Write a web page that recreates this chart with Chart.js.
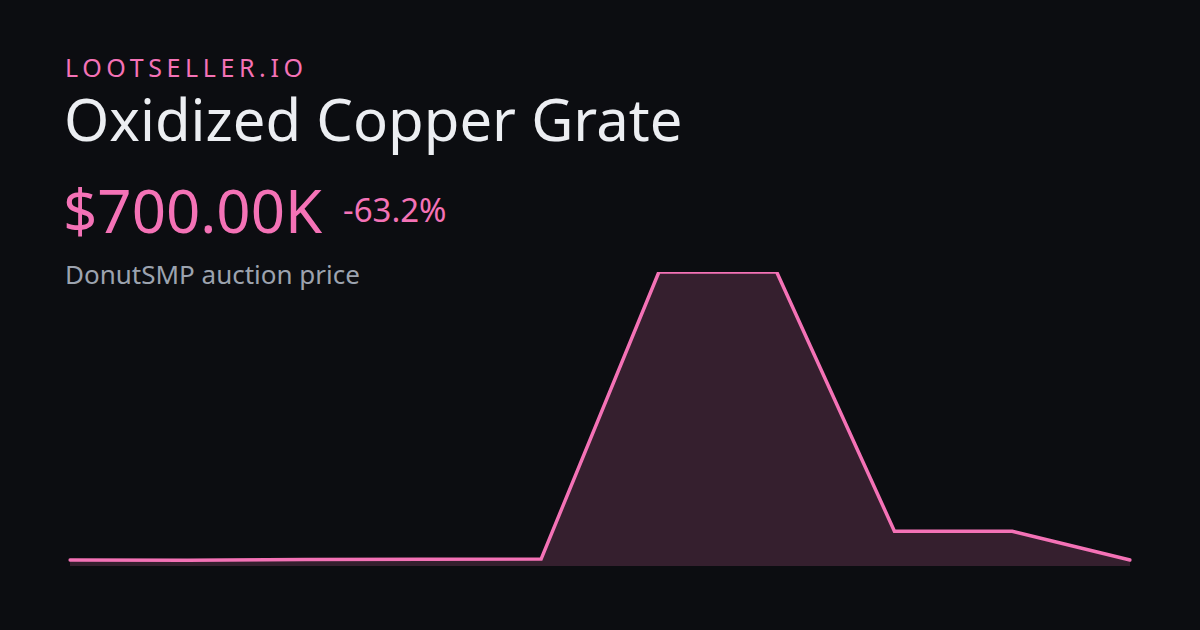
<!DOCTYPE html>
<html>
<head>
<meta charset="utf-8">
<script src="https://cdn.jsdelivr.net/npm/chart.js@4/dist/chart.umd.min.js"></script>
<style>
  html, body { margin: 0; padding: 0; }
  body {
    width: 1200px; height: 630px; overflow: hidden; position: relative;
    background: #0c0d11; font-family: "Noto Sans", sans-serif;
  }
  .txt { position: absolute; line-height: 1; white-space: nowrap; }
  #brand { left: 65px; top: 55px; font-size: 25px; color: #f472b6; letter-spacing: 4.6px; }
  #title { left: 64px; top: 90px; font-size: 58px; color: #eceef2; }
  #price { left: 63px; top: 180px; font-size: 60px; color: #f472b6; }
  #change { left: 343px; top: 193px; font-size: 33px; color: #f472b6; }
  #sub { left: 65px; top: 261px; font-size: 26px; color: #9ca3af; }
  #wrap { position: absolute; left: 60px; top: 262px; width: 1080px; height: 304px; }
</style>
</head>
<body>
<div class="txt" id="brand">LOOTSELLER.IO</div>
<div class="txt" id="title">Oxidized Copper Grate</div>
<div class="txt" id="price">$700.00K</div>
<div class="txt" id="change">-63.2%</div>
<div class="txt" id="sub">DonutSMP auction price</div>
<div id="wrap"><canvas id="priceChart" width="1080" height="304"></canvas></div>
<script>
// price history (10 samples, oldest first)
var labels = ['1', '2', '3', '4', '5', '6', '7', '8', '9', '10'];
var prices = [700000, 690000, 720000, 730000, 740000, 12700000, 12700000, 1900000, 1900000, 700000];

var pink = '#f472b6';

var ctx = document.getElementById('priceChart').getContext('2d');
var priceChart = new Chart(ctx, {
    type: 'line',
    data: {
        labels: labels,
        datasets: [{
            data: prices,
            borderColor: pink,
            borderWidth: 3.5,
            backgroundColor: 'rgba(244, 114, 182, 0.18)',
            fill: 'start',
            tension: 0,
            pointRadius: 0,
            borderJoinStyle: 'miter',
            borderCapStyle: 'round'
        }]
    },
    options: {
        responsive: false,
        animation: false,
        devicePixelRatio: 1,
        layout: { padding: { left: 10, right: 10, top: 10, bottom: 0 } },
        plugins: { legend: { display: false }, tooltip: { enabled: false } },
        scales: {
            x: { display: false, offset: false },
            y: { display: false, min: 450000, max: 12700000 }
        }
    }
});
</script>
</body>
</html>
